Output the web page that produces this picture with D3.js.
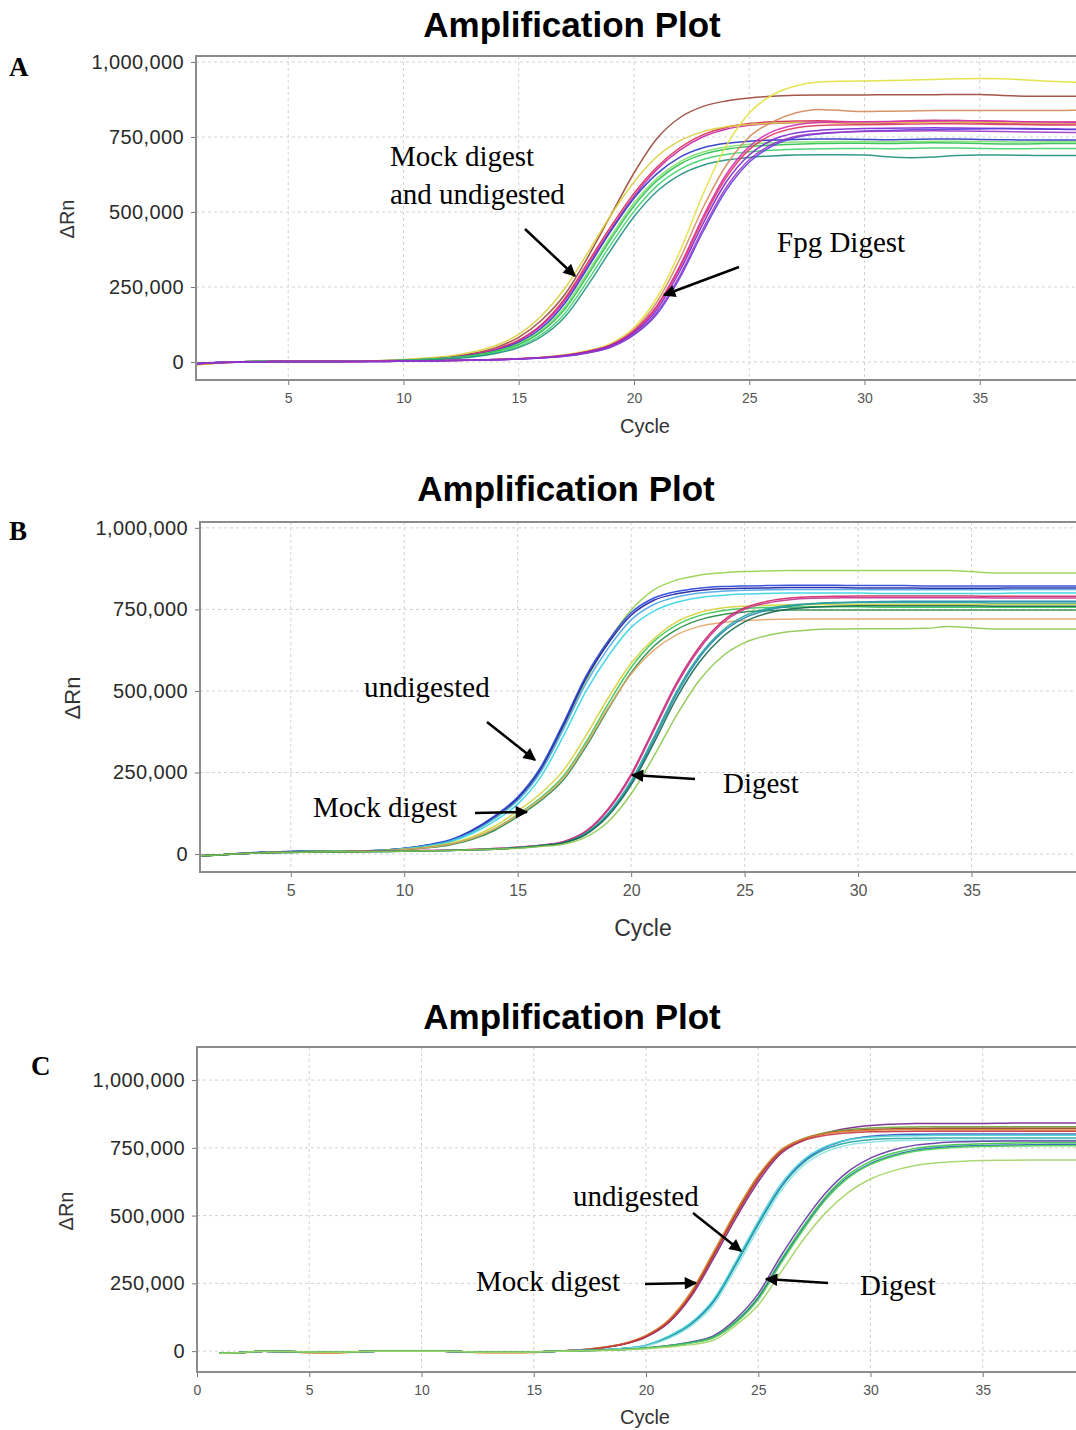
<!DOCTYPE html>
<html>
<head>
<meta charset="utf-8">
<script src="https://cdn.jsdelivr.net/npm/d3@7"></script>
<style>
  body { margin: 0; background: #fff; }
  svg { display: block; }
</style>
</head>
<body>
<svg id="chart" width="1076" height="1430"></svg>
<script>
// cycle numbers and axis ticks
var cycles = [1,2,3,4,5,6,7,8,9,10,11,12,13,14,15,16,17,18,19,20,21,22,23,24,25,26,27,28,29,30,31,32,33,34,35,36,37,38,39,40];
var yTicks = [0, 250, 500, 750, 1000];          // thousands of dRn
var xTicksAB = [5, 10, 15, 20, 25, 30, 35];
var xTicksC = [0, 5, 10, 15, 20, 25, 30, 35];

// ---- panel A (values in thousands) ----
// mock digest and undigested
var a_brown   = [-8,-3,1,2,2,2,3,3,4,7,11,17,28,48,82,140,225,350,490,630,745,815,852,870,880,886,889,890,890,890,891,891,891,892,892,888,886,886,886,886];
var a_red     = [-7,-2,1,2,2,2,3,3,4,6,10,16,26,43,73,126,212,332,452,562,650,715,758,782,795,801,803,804,802,800,801,804,806,805,803,801,800,799,800,801];
var a_magenta = [-6,-2,1,2,2,2,2,3,4,6,10,15,25,41,70,122,205,323,443,553,642,707,751,776,789,795,798,800,797,794,795,799,802,800,797,795,794,793,794,795];
var a_yellow  = [-9,-3,1,2,2,2,3,3,5,8,13,20,33,55,92,155,245,365,490,600,685,738,768,784,792,796,798,798,797,797,798,799,800,800,799,798,797,797,797,797];
var a_blue    = [-5,-1,1,2,2,2,2,3,4,6,9,14,23,38,65,114,196,315,437,546,628,683,714,729,736,740,742,743,743,742,741,742,743,743,742,741,740,740,740,740];
var a_lime    = [-7,-2,1,2,2,2,2,3,4,6,9,14,22,36,61,107,184,300,420,530,612,668,700,717,726,731,733,734,735,735,734,735,736,736,735,734,733,734,734,734];
var a_green1  = [-6,-2,1,2,2,2,2,3,4,5,8,13,21,35,58,102,176,290,410,520,604,660,692,709,718,723,726,728,729,729,728,730,731,730,728,727,727,728,728,728];
var a_green2  = [-6,-2,1,2,2,2,2,3,3,5,8,12,19,31,52,92,162,272,392,502,587,642,675,692,701,706,709,711,712,712,711,712,713,713,712,711,711,712,712,712];
var a_teal    = [-5,-2,1,2,2,2,2,2,3,5,7,11,17,28,48,85,150,256,374,484,569,624,656,673,682,687,690,691,691,690,684,681,683,688,690,690,689,688,688,688];
// Fpg digest
var a_yellowD = [-9,-3,0,1,2,2,2,2,3,3,4,5,6,8,11,16,24,38,62,115,215,370,560,720,830,890,920,933,936,937,938,940,942,944,945,944,940,936,933,932];
var a_tan     = [-8,-3,0,1,2,2,2,2,3,3,4,5,6,8,11,15,23,36,58,108,200,345,515,655,750,800,830,842,838,835,836,837,838,838,838,838,838,838,839,840];
var a_magentD = [-7,-2,0,1,2,2,2,2,3,3,4,5,6,8,11,15,22,35,57,104,188,322,485,625,718,768,790,798,800,801,802,803,804,805,804,803,801,800,799,799];
var a_crimson = [-7,-2,0,1,2,2,2,2,3,3,4,5,6,8,11,15,22,34,56,102,184,316,476,615,708,758,780,788,790,791,792,793,794,794,793,792,791,790,790,790];
var a_purple1 = [-6,-2,0,1,2,2,2,2,2,3,4,5,6,8,10,14,21,33,54,98,175,305,462,600,690,740,763,772,776,778,779,780,781,780,779,778,777,776,775,775];
var a_violet  = [-6,-2,0,1,2,2,2,2,2,3,4,5,6,7,10,13,19,30,49,90,160,282,435,572,666,720,748,760,766,770,772,774,775,776,777,778,778,777,776,776];
var a_purple2 = [-6,-2,0,1,2,2,2,2,2,3,4,5,6,7,10,14,20,31,51,93,166,290,445,582,674,726,752,762,766,768,769,770,771,770,769,768,767,766,765,764];

// ---- panel B ----
// undigested
var b_lgreen  = [-6,-2,2,5,7,8,9,10,12,17,26,40,68,110,165,252,385,530,652,748,810,840,855,862,866,868,869,869,869,869,869,869,869,869,866,862,862,862,862,862];
var b_blue    = [-5,-2,3,6,8,9,9,10,12,18,28,43,74,118,175,265,400,545,655,740,785,805,815,820,822,823,824,824,824,823,823,823,822,822,822,822,822,822,822,822];
var b_navy    = [-5,-2,3,6,8,9,9,10,12,17,27,41,71,114,170,258,392,537,647,732,778,798,808,813,815,816,817,817,817,816,816,816,815,815,815,815,816,816,816,816];
var b_sky     = [-6,-2,2,5,7,8,9,10,12,17,26,40,68,110,164,250,380,522,632,718,765,788,800,806,809,810,811,811,811,811,810,810,810,810,810,810,811,811,811,811];
var b_cyan    = [-6,-2,2,5,7,8,9,9,11,16,24,37,63,102,153,235,360,498,608,695,745,772,786,793,797,799,800,800,800,800,799,799,799,799,799,799,800,800,800,800];
// mock digest
var b_yellow  = [-6,-2,2,5,7,8,8,9,11,15,22,33,53,86,132,185,255,362,480,585,660,712,740,754,760,763,764,765,765,765,765,765,765,765,765,765,765,765,765,765];
var b_green1  = [-6,-2,2,5,7,8,8,9,10,14,20,30,48,78,122,172,238,342,462,572,652,702,731,746,753,756,757,758,758,758,757,757,757,757,757,757,757,757,757,757];
var b_green2  = [-6,-2,2,5,7,8,8,9,10,13,19,28,45,73,115,163,226,328,446,556,637,688,718,734,742,746,748,748,748,748,748,748,748,748,748,748,748,748,748,748];
var b_tan     = [-6,-2,2,5,7,8,8,9,10,14,20,30,48,78,120,168,232,335,450,552,625,672,698,710,716,719,720,721,721,721,721,721,721,721,721,721,721,721,721,721];
// digest
var b_red     = [-5,-2,2,4,6,7,7,8,9,10,11,12,14,17,21,27,38,70,140,245,385,525,635,712,755,775,785,789,790,791,791,791,791,791,791,790,790,790,790,790];
var b_magenta = [-5,-2,2,4,6,7,7,8,9,10,11,12,14,17,21,27,37,68,136,240,378,518,628,706,750,770,780,784,785,786,786,786,786,786,786,785,785,785,785,785];
var b_bluegr  = [-5,-2,2,4,5,6,7,7,8,9,10,11,13,15,19,25,34,62,122,218,350,490,602,678,724,748,760,767,771,773,774,775,775,775,775,775,775,775,775,775];
var b_teal    = [-5,-2,2,4,6,7,7,8,8,9,10,11,13,16,20,26,35,64,126,225,358,498,608,684,730,752,763,768,770,771,771,771,771,771,771,770,770,770,770,770];
var b_dkgreen = [-5,-2,2,4,5,6,7,7,8,9,10,11,13,15,19,25,34,60,118,212,340,478,588,664,712,738,751,757,760,761,761,761,761,761,761,760,760,760,760,760];
var b_pale    = [-5,-2,2,4,5,6,7,7,8,9,10,11,13,15,18,23,30,52,100,185,300,425,532,605,648,670,682,688,690,691,691,691,692,698,694,690,690,690,690,690];

// ---- panel C ----
// mock digest
var c_purpleM = [-8,-5,0,-1,-3,-4,-2,0,0,0,0,-2,-4,-4,-3,0,4,12,25,52,104,200,340,490,625,728,778,805,822,832,837,840,840,840,840,841,842,842,842,842];
var c_olive   = [-8,-5,0,-1,-3,-4,-2,0,0,0,0,-2,-4,-4,-3,0,4,13,27,57,112,214,360,512,645,740,784,806,817,823,826,827,828,828,828,828,828,828,828,828];
var c_brown   = [-8,-6,0,-2,-5,-6,-3,0,0,0,0,-3,-5,-5,-4,0,4,12,26,55,110,210,355,505,640,738,782,803,813,818,820,821,822,822,822,822,822,822,822,822];
var c_orange  = [-8,-6,0,-2,-6,-7,-4,0,0,0,0,-4,-6,-6,-5,0,4,13,28,58,115,218,365,515,648,742,783,802,811,815,816,817,817,817,817,817,816,816,816,816];
var c_red     = [-8,-5,0,-1,-3,-4,-2,0,0,0,0,-2,-4,-4,-3,0,4,12,26,54,108,206,350,500,635,732,776,796,805,809,810,811,811,811,811,811,811,811,811,811];
// undigested
var c_blue    = [-8,-5,0,-1,-3,-4,-2,0,0,0,0,-2,-4,-4,-3,0,2,5,10,21,52,100,184,322,470,606,698,752,780,793,798,800,801,801,801,801,801,801,801,801];
var c_cyan    = [-8,-5,0,-1,-3,-4,-2,0,0,0,0,-2,-4,-4,-3,0,2,5,11,22,55,105,190,330,480,615,705,755,780,790,794,795,796,796,796,796,796,796,796,796];
var c_teal    = [-8,-5,0,-1,-3,-4,-2,0,0,0,0,-2,-4,-4,-3,0,2,5,10,20,50,98,180,318,466,602,694,745,770,780,784,785,786,786,786,786,786,786,786,786];
var c_ltcyan  = [-8,-5,0,-1,-3,-4,-2,0,0,0,0,-2,-4,-4,-3,0,2,4,9,19,46,92,170,305,452,590,684,735,760,771,776,778,778,778,778,778,778,778,778,778];
// digest
var c_purpleD = [-8,-5,0,-1,-3,-4,-2,0,0,0,0,-2,-4,-4,-3,0,1,3,6,12,21,34,56,118,212,350,475,583,662,712,742,760,768,772,774,775,775,775,775,775];
var c_green1  = [-8,-5,0,-1,-3,-4,-2,0,0,0,0,-2,-4,-4,-3,0,1,3,6,12,20,32,52,110,200,335,460,570,650,700,730,748,757,762,765,767,768,769,769,770];
var c_blueD   = [-8,-5,0,-1,-3,-4,-2,0,0,0,0,-2,-4,-4,-3,0,1,3,6,11,19,31,50,106,195,328,452,562,642,692,722,741,751,756,759,760,761,762,762,762];
var c_green2  = [-8,-5,0,-1,-3,-4,-2,0,0,0,0,-2,-4,-4,-3,0,1,3,6,11,19,30,49,104,190,322,447,558,638,688,718,737,747,752,755,756,757,758,758,758];
var c_pale    = [-8,-5,0,-1,-3,-4,-2,0,0,0,0,-2,-4,-4,-3,0,1,2,5,9,15,24,40,95,170,290,410,510,585,635,665,685,695,700,703,704,705,705,705,705];

var seriesA = [a_brown, a_red, a_magenta, a_yellow, a_blue, a_lime, a_green1, a_green2, a_teal,
               a_yellowD, a_tan, a_magentD, a_crimson, a_purple1, a_violet, a_purple2];
var colorsA = ["#9a4535", "#d8284e", "#c823a8", "#d9cf3a", "#2634c4", "#7ee06a", "#27c04a", "#3fd26c", "#1f8f80",
               "#e2e13c", "#d4885a", "#d52ab8", "#e0355e", "#7b22d2", "#5b3fe0", "#9a34c6"];

var seriesB = [b_lgreen, b_blue, b_navy, b_sky, b_cyan, b_yellow, b_green1, b_green2, b_tan,
               b_red, b_magenta, b_bluegr, b_teal, b_dkgreen, b_pale];
var colorsB = ["#94d24a", "#2444d4", "#1c1c9e", "#4aa6e6", "#34d4e4", "#d4d234", "#34c454", "#238a46", "#e4a466",
               "#d42462", "#c23294", "#2284b4", "#22a494", "#12664e", "#8cc84c"];

var seriesC = [c_purpleM, c_olive, c_brown, c_orange, c_red, c_blue, c_cyan, c_teal, c_ltcyan,
               c_purpleD, c_green1, c_blueD, c_green2, c_pale];
var colorsC = ["#74228a", "#72a434", "#8e4424", "#e28434", "#c43444", "#3252c4", "#44d4d4", "#22a4a4", "#86e2e2",
               "#6434a4", "#34c444", "#2464b4", "#54d454", "#a2d464"];

// layout of the three panels
var panels = [
  { letter: "A", letterX: 9, letterY: 76, titleX: 572, titleY: 37,
    left: 196, right: 1095, top: 56, bottom: 380, xDomain: [1, 40], yDomain: [-60, 1020],
    xTicks: xTicksAB, series: seriesA, colors: colorsA,
    tickFont: 14, cycleX: 645, cycleY: 433, cycleFont: 20, yLabX: 67, yLabY: 219, yLabFont: 20,
    notes: [["Mock digest", 390, 166], ["and undigested", 390, 204], ["Fpg Digest", 777, 252]],
    arrows: [[525, 229, 575, 276], [739, 267, 664, 295]] },
  { letter: "B", letterX: 9, letterY: 540, titleX: 566, titleY: 501,
    left: 200, right: 1085, top: 522, bottom: 872, xDomain: [1, 40], yDomain: [-55, 1018],
    xTicks: xTicksAB, series: seriesB, colors: colorsB,
    tickFont: 16, cycleX: 643, cycleY: 936, cycleFont: 23, yLabX: 72, yLabY: 698, yLabFont: 22,
    notes: [["undigested", 364, 697], ["Mock digest", 313, 817], ["Digest", 723, 793]],
    arrows: [[487, 722, 535, 760], [475, 813, 527, 812], [695, 779, 632, 775]] },
  { letter: "C", letterX: 31, letterY: 1075, titleX: 572, titleY: 1029,
    left: 197, right: 1095, top: 1047, bottom: 1372, xDomain: [0, 40], yDomain: [-77, 1122],
    xTicks: xTicksC, series: seriesC, colors: colorsC,
    tickFont: 14, cycleX: 645, cycleY: 1424, cycleFont: 20, yLabX: 66, yLabY: 1211, yLabFont: 20,
    notes: [["undigested", 573, 1206], ["Mock digest", 476, 1291], ["Digest", 860, 1295]],
    arrows: [[693, 1213, 741, 1251], [645, 1284, 696, 1283], [828, 1283, 766, 1279]] }
];

var svg = d3.select("#chart");
var sans = "'Liberation Sans', Arial, sans-serif";
var serif = "'Liberation Serif', 'Times New Roman', serif";

svg.append("defs").append("marker")
  .attr("id", "head")
  .attr("viewBox", "0 0 10 10")
  .attr("refX", 9).attr("refY", 5)
  .attr("markerWidth", 6).attr("markerHeight", 5)
  .attr("markerUnits", "strokeWidth")
  .attr("orient", "auto")
  .append("path").attr("d", "M0,0 L10,5 L0,10 Z").attr("fill", "#000");

var drawPanel = function(p, idx) {
  var x = d3.scaleLinear().domain(p.xDomain).range([p.left, p.right]);
  var y = d3.scaleLinear().domain(p.yDomain).range([p.bottom, p.top]);
  var g = svg.append("g");

  // title + panel letter
  g.append("text").attr("x", p.titleX).attr("y", p.titleY)
    .attr("text-anchor", "middle").style("font-family", sans)
    .style("font-weight", 700).style("font-size", "35px").text("Amplification Plot");
  g.append("text").attr("x", p.letterX).attr("y", p.letterY)
    .style("font-family", serif).style("font-weight", 700).style("font-size", "27px").text(p.letter);

  // dashed grid (also the 40 line, which falls off the page)
  var gridX = p.xTicks.concat([40]).filter(d => d > p.xDomain[0]);
  g.append("g").selectAll("line").data(gridX).enter().append("line")
    .attr("x1", d => x(d)).attr("x2", d => x(d)).attr("y1", p.top).attr("y2", p.bottom)
    .attr("stroke", "#d2d2d2").attr("stroke-dasharray", "3,3");
  g.append("g").selectAll("line").data(yTicks).enter().append("line")
    .attr("x1", p.left).attr("x2", p.right).attr("y1", d => y(d)).attr("y2", d => y(d))
    .attr("stroke", "#d2d2d2").attr("stroke-dasharray", "3,3");

  // curves
  var clipId = "clip" + idx;
  svg.append("clipPath").attr("id", clipId).append("rect")
    .attr("x", p.left).attr("y", p.top).attr("width", p.right - p.left).attr("height", p.bottom - p.top);
  var line = d3.line()
    .x((d, i) => x(cycles[i]))
    .y(d => y(d))
    .curve(d3.curveMonotoneX);
  g.append("g").attr("clip-path", "url(#" + clipId + ")")
    .selectAll("path").data(p.series).enter().append("path")
    .attr("d", d => line(d))
    .attr("fill", "none")
    .attr("stroke", (d, i) => p.colors[i])
    .attr("stroke-width", 1.5)
    .attr("stroke-opacity", 0.9);

  // axes
  var yAxis = d3.axisLeft(y).tickValues(yTicks).tickSize(5).tickPadding(7)
    .tickFormat(d => d3.format(",")(d * 1000));
  var ya = g.append("g").attr("transform", "translate(" + p.left + ",0)").call(yAxis);
  ya.select(".domain").remove();
  ya.selectAll("line").attr("stroke", "#777");
  ya.selectAll("text").style("font-family", sans).style("font-size", "20px")
    .style("letter-spacing", "0.4px").attr("fill", "#2a2a2a");

  var xAxis = d3.axisBottom(x).tickValues(p.xTicks).tickSize(5).tickPadding(8);
  var xa = g.append("g").attr("transform", "translate(0," + p.bottom + ")").call(xAxis);
  xa.select(".domain").remove();
  xa.selectAll("line").attr("stroke", "#777");
  xa.selectAll("text").style("font-family", sans).style("font-size", p.tickFont + "px").attr("fill", "#555");

  // frame
  g.append("path")
    .attr("d", "M" + p.right + "," + p.top + "H" + p.left + "V" + p.bottom + "H" + p.right)
    .attr("fill", "none").attr("stroke", "#8c8c8c").attr("stroke-width", 2);

  // axis titles
  g.append("text").attr("x", p.cycleX).attr("y", p.cycleY).attr("text-anchor", "middle")
    .style("font-family", sans).style("font-size", p.cycleFont + "px").attr("fill", "#333").text("Cycle");
  g.append("text").attr("transform", "translate(" + p.yLabX + "," + p.yLabY + ") rotate(-90)")
    .attr("text-anchor", "middle").attr("dy", "0.35em")
    .style("font-family", sans).style("font-size", p.yLabFont + "px").attr("fill", "#333").text("\u0394Rn");

  // annotations
  g.selectAll(".note").data(p.notes).enter().append("text")
    .attr("x", d => d[1]).attr("y", d => d[2])
    .style("font-family", serif).style("font-size", "29px").attr("fill", "#000").text(d => d[0]);
  g.selectAll(".arrow").data(p.arrows).enter().append("line")
    .attr("x1", d => d[0]).attr("y1", d => d[1]).attr("x2", d => d[2]).attr("y2", d => d[3])
    .attr("stroke", "#000").attr("stroke-width", 2.5).attr("marker-end", "url(#head)");
};

panels.forEach(drawPanel);
</script>
</body>
</html>
